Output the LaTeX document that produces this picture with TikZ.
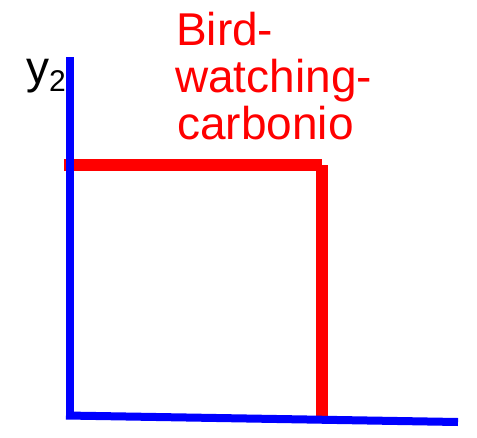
\documentclass[tikz,border=0pt]{standalone}
\usepackage{fontspec}
\setmainfont{Liberation Sans}
\tikzset{
  redbar/.style={draw=red, line width=12pt, line cap=butt},
  bluebar/.style={draw=blue, line width=8pt, line cap=butt},
  bigtext/.style={anchor=base west, inner sep=0pt, font=\fontsize{46}{48}\selectfont},
}
\begin{document}
\begin{tikzpicture}[x=1pt,y=-1pt]
\useasboundingbox (0,0) rectangle (477,437);
\coordinate (rl) at (64,165);
\coordinate (rc) at (322,165);
\coordinate (rb) at (322,416);
\coordinate (yt) at (69.5,57);
\coordinate (o) at (69.5,415.5);
\coordinate (o2) at (66,415.5);
\coordinate (xe) at (458,422);
\draw[redbar] (rl) -- (rc);
\draw[redbar] (rc) -- (rb);
\draw[bluebar] (yt) -- (o);
\draw[bluebar] (o2) -- (xe);
\node[bigtext, text=red] (t1) at (176,45) {Bird-};
\node[bigtext, text=red] (t2) at (175,92) {watching-};
\node[bigtext, text=red] (t3) at (177,139) {carbonio};
\node[bigtext] (ylab) at (26,83) {y\raisebox{-8pt}{\fontsize{30}{30}\selectfont 2}};
\end{tikzpicture}
\end{document}
